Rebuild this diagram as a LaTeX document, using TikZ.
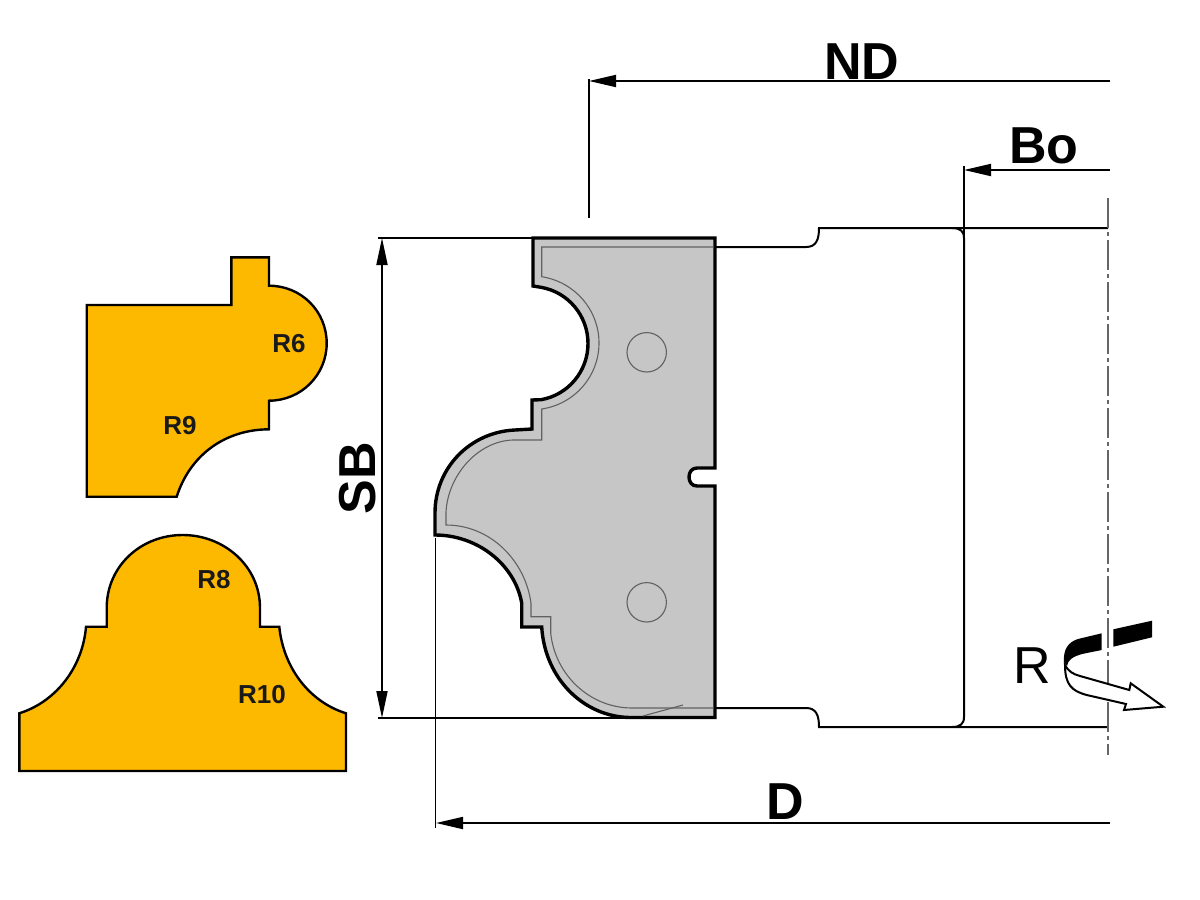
\documentclass[tikz,border=0pt]{standalone}
\usepackage{fontspec}
\setmainfont{Liberation Sans}
\usetikzlibrary{arrows.meta}
\definecolor{prof}{HTML}{FDB800}
\definecolor{blade}{HTML}{C6C6C6}
\tikzset{
  dim/.style={line width=1.8pt,black},
  dimarrow/.style={dim,{Triangle[length=27pt,width=12pt]}-},
  bodyline/.style={line width=2pt,black},
  profile/.style={fill=prof,draw=black,line width=2.4pt,line join=miter},
  inner/.style={line width=1.1pt,draw=black!62},
  biglabel/.style={font=\fontsize{52}{52}\selectfont\bfseries,inner sep=0pt},
  smalllabel/.style={font=\fontsize{26}{26}\selectfont,inner sep=0pt,text=black!90},
}
\begin{document}
\begin{tikzpicture}[x=1pt,y=-1pt]
\useasboundingbox[fill=white] (0,0) rectangle (1200,900);
% orange profiles
\draw[profile] (86.7,305) -- (231.3,305) -- (231.3,257.3) -- (269,257.3) -- (269,285.7)
  .. controls (301,285.7) and (326.7,311) .. (326.7,343.3)
  .. controls (326.7,375) and (301,400.7) .. (269,400.7)
  -- (269,429.3)
  .. controls (225,429.5) and (190,455) .. (176.7,496.7)
  -- (86.7,496.7) -- cycle;
\draw[profile] (19.3,771) -- (19.3,713.3)
  .. controls (58,701) and (83,665) .. (86,626.7)
  -- (106.7,626.7) -- (106.7,608)
  .. controls (106.7,566) and (141,535) .. (182.7,535)
  .. controls (224,535) and (260,566) .. (260,608)
  -- (260,626.7) -- (279.3,626.7)
  .. controls (283,665) and (307,701) .. (346,713.3)
  -- (346,771) -- cycle;
\node[smalllabel] (r6) at (289,344) {\bfseries R6};
\node[smalllabel] (r9) at (180,426) {\bfseries R9};
\node[smalllabel] (r8) at (214,580) {\bfseries R8};
\node[smalllabel] (r10) at (262,695) {\bfseries R10};
% tool body
\draw[bodyline] (715,247) -- (806,247) .. controls (816,247) and (819,240) .. (819,228)
  -- (1108,228);
\draw[bodyline] (715,708) -- (806,708) .. controls (816,708) and (819,715) .. (819,727)
  -- (1108,727);
\draw[bodyline] (952,228) .. controls (960,228) and (964,231) .. (964,238)
  -- (964,717) .. controls (964,724) and (960,727) .. (952,727);
\draw[dim] (964,166) -- (964,238);
% blade
\draw[fill=blade,draw=black,line width=3.4pt,line join=miter]
  (533,238) -- (715,238) -- (715,468) -- (697,468)
  .. controls (692,468) and (689,472) .. (689,477)
  .. controls (689,482) and (692,486) .. (697,486)
  -- (715,486) -- (715,717.5) -- (630,717.5)
  .. controls (585,717) and (545,680) .. (541.7,627)
  -- (521.7,627) -- (521.7,603)
  .. controls (515,565) and (478,535) .. (435,535)
  -- (435,513)
  .. controls (435,468) and (470,432) .. (515,430)
  -- (532,429) -- (532,400) -- (541,399.7)
  .. controls (568.3,394.9) and (588,371.2) .. (588,343.5)
  .. controls (588,315.8) and (568.3,292.1) .. (541,287.3)
  -- (533,286) -- cycle;
\draw[inner] (713,247) -- (541.7,247) -- (541.7,276.7)
  .. controls (575,282) and (599,310) .. (599,343)
  .. controls (599,376) and (575,404) .. (541.7,409)
  -- (541.7,440) -- (513,440)
  .. controls (478,441) and (448,475) .. (446,512)
  -- (446,525)
  .. controls (490,525) and (525,560) .. (531,603)
  -- (531,616.7) -- (550.7,616.7) -- (550.7,633)
  .. controls (555,675) and (590,708) .. (632,708)
  -- (713,708);
\draw[inner] (643,716) -- (683,705);
\draw[inner] (646.7,352.3) circle[radius=19.7];
\draw[inner] (646.7,602.3) circle[radius=19.7];
% dimension lines
\draw[dim] (378,238) -- (533,238);
\draw[dim] (378,718) -- (715,718);
\draw[dim,{Triangle[length=27pt,width=11pt]}-{Triangle[length=27pt,width=11pt]}] (382,238) -- (382,718);
\draw[dim] (589,79) -- (589,218);
\draw[dimarrow] (589,81) -- (1110,81);
\draw[dimarrow] (964,170) -- (1110,170);
\draw[dim] (435.5,538) -- (435.5,828);
\draw[dimarrow] (436,823) -- (1110,823);
\node[biglabel] (nd) at (862,62) {ND};
\node[biglabel] (bo) at (1044,146) {Bo};
\node[biglabel] (d) at (785,802) {D};
\node[biglabel,rotate=90] (sb) at (358,478) {SB};
% axis
\draw[line width=1.2pt,draw=black!60,dash pattern=on 30pt off 4pt on 4pt off 4pt] (1108,198) -- (1108,755);
% rotation sign
\fill (1064,662) .. controls (1063,650) and (1068,642) .. (1078,639)
  -- (1101.7,633.3) -- (1101.7,650) -- (1082,654) .. controls (1072,657) and (1068,660) .. (1067,666) -- cycle;
\fill (1113.3,629.3) -- (1152,620.7) -- (1152,637.3) -- (1113.3,646.7) -- cycle;
\draw[fill=white,line width=2pt,line join=miter] (1065,665)
  .. controls (1069,672) and (1073,674) .. (1080,676)
  -- (1129.3,690) -- (1130.7,683.3) -- (1163.3,706.7) -- (1124,710) -- (1126,704)
  -- (1086.7,695)
  .. controls (1072,691) and (1065,685) .. (1065,665) -- cycle;
\node[font=\fontsize{52}{52}\selectfont,inner sep=0pt] (r) at (1032,666) {R};
\end{tikzpicture}
\end{document}
